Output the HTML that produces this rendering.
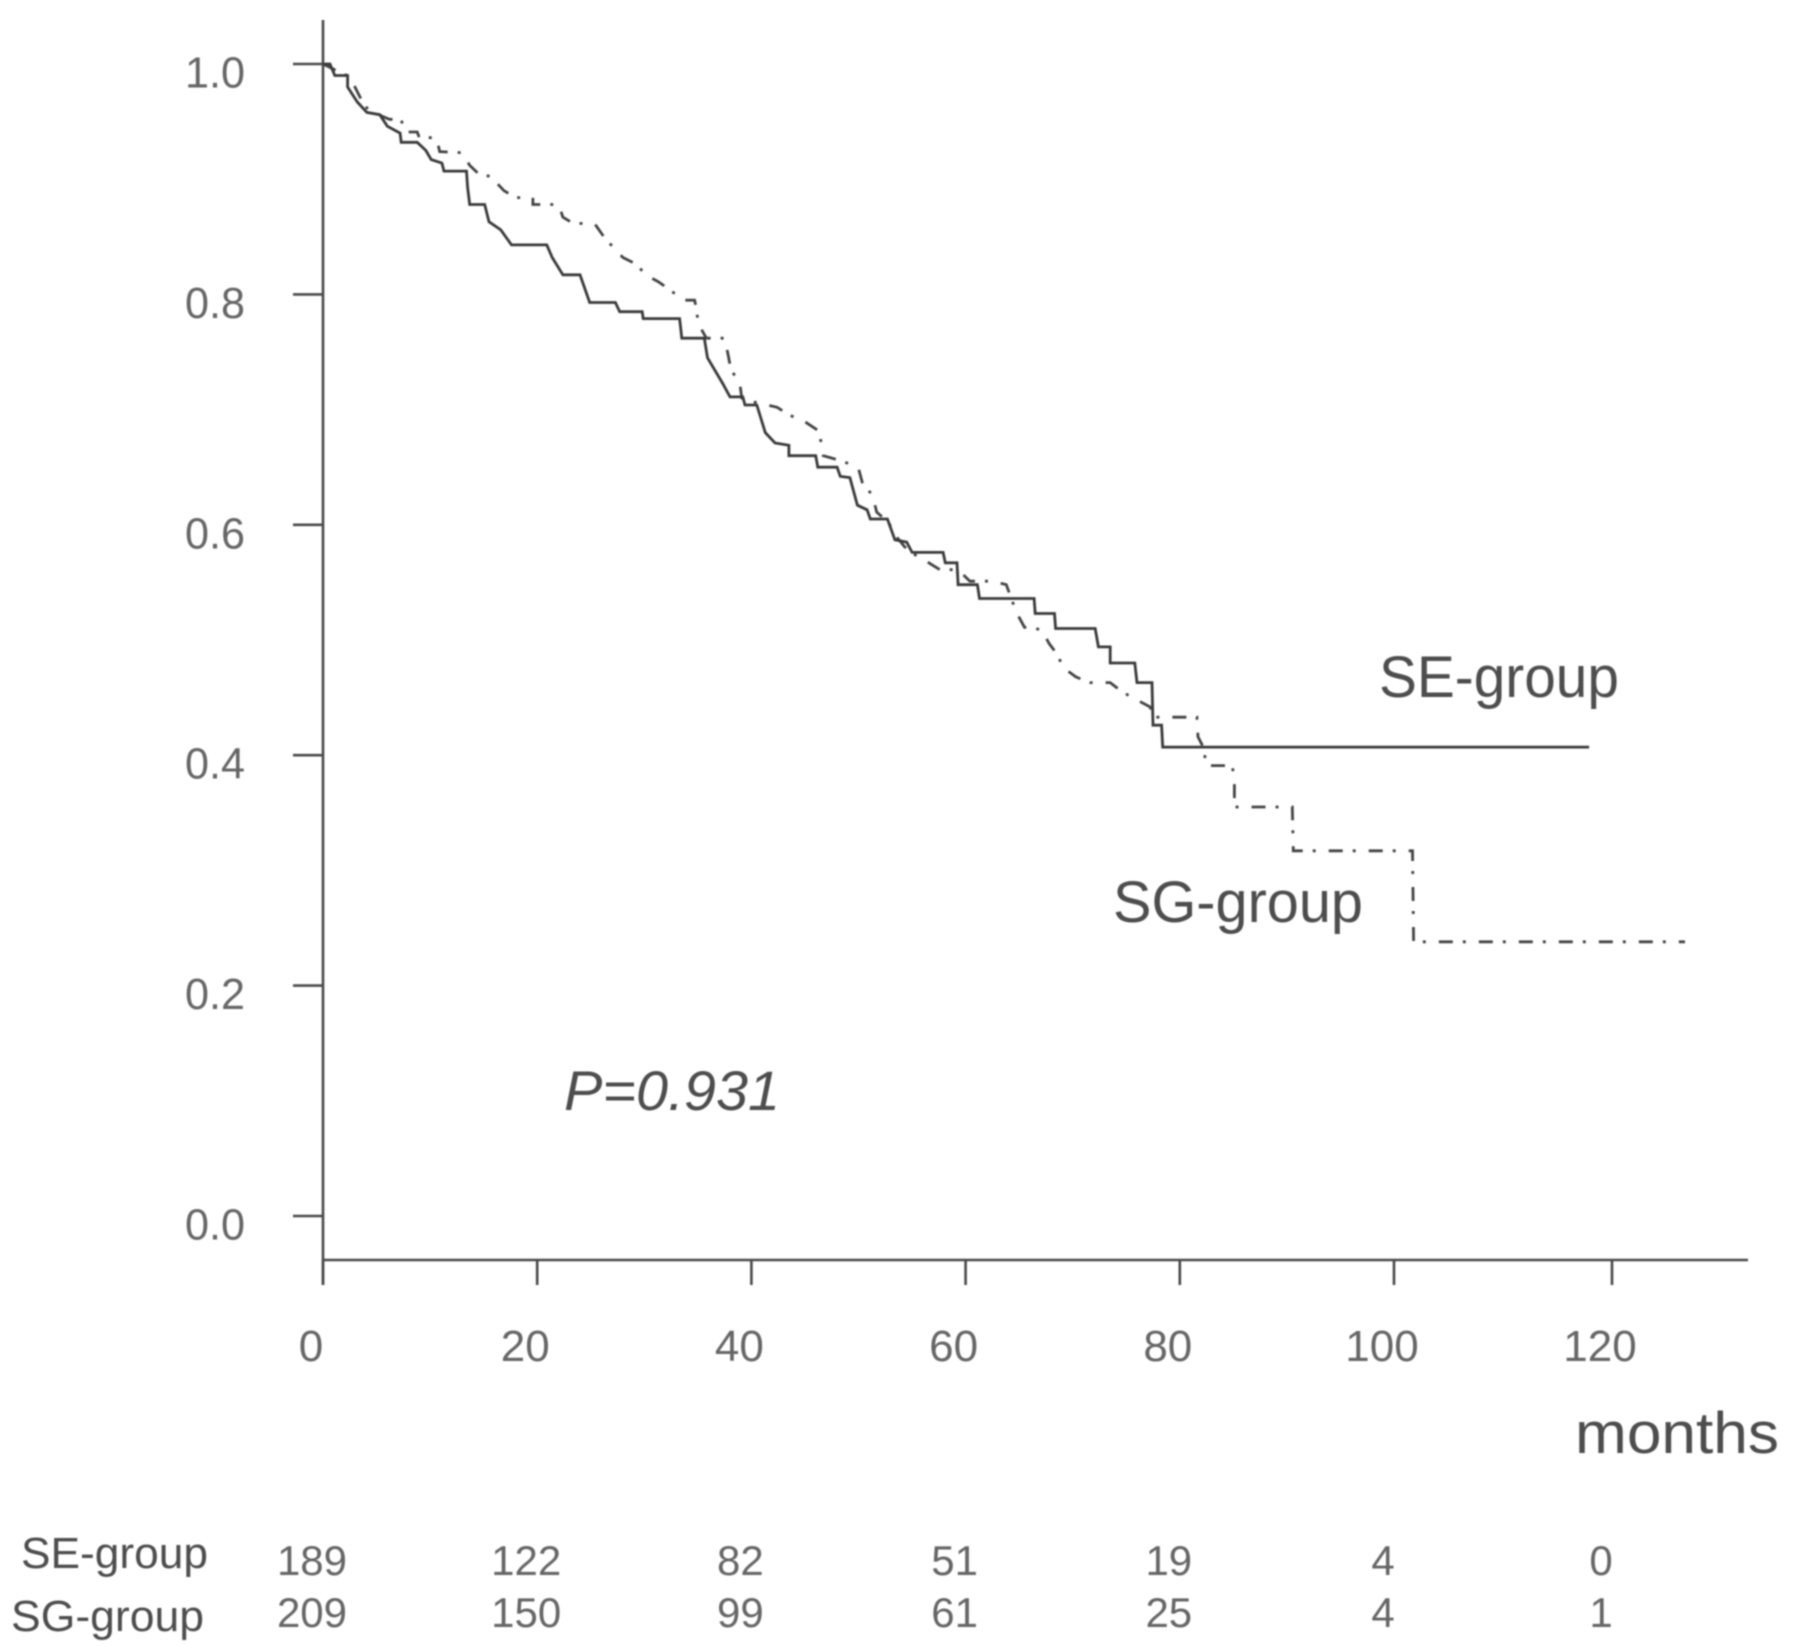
<!DOCTYPE html>
<html lang="en">
<head>
<meta charset="utf-8">
<title>Kaplan-Meier survival curves: SE-group and SG-group</title>
<style>
html,body{margin:0;padding:0;background:#fff;}
svg{display:block;}
text{font-family:"Liberation Sans",sans-serif;}
</style>
</head>
<body>
<svg id="chart" xmlns="http://www.w3.org/2000/svg" width="1795" height="1646" viewBox="0 0 1795 1646">
  <defs>
    <filter id="soft" filterUnits="userSpaceOnUse" x="0" y="0" width="1795" height="1646">
      <feGaussianBlur stdDeviation="0.9"/>
    </filter>
  </defs>
  <rect x="0" y="0" width="1795" height="1646" fill="#ffffff"/>
  <g id="plot" filter="url(#soft)"></g>
</svg>
<script>
// Axis tick values
const xTicks = [0, 20, 40, 60, 80, 100, 120];
const yTicks = [0.0, 0.2, 0.4, 0.6, 0.8, 1.0];
const yTickLabels = ['0.0', '0.2', '0.4', '0.6', '0.8', '1.0'];

// SE-group survival curve (solid)
const seMonths = [0,0.65,1.1,2.3,2.3,3.2,4.1,5.3,6.0,7.2,7.3,8.8,9.6,10.1,11.1,11.3,13.4,13.5,13.7,15.1,15.5,16.6,17.6,20.9,21.4,22.4,24,24.9,27.3,27.7,29.8,29.9,33.3,33.5,35.6,35.9,37.3,38,39.2,39.4,40.5,41.3,42.2,43.5,43.5,46,46.2,48,48.3,49.2,49.9,50.8,51.1,52.7,53.4,54.5,55,57.9,58.1,59.2,59.3,61.1,61.3,66.4,66.5,68.3,68.4,72.1,72.4,73.5,73.5,75.8,76,77.4,77.5,78.3,78.4,117.9];
const seSurvival = [1,1,0.99,0.99,0.98,0.967,0.958,0.956,0.946,0.94,0.932,0.932,0.925,0.917,0.914,0.907,0.907,0.893,0.878,0.878,0.863,0.856,0.843,0.843,0.832,0.817,0.817,0.793,0.793,0.785,0.785,0.779,0.779,0.762,0.762,0.745,0.723,0.711,0.711,0.704,0.704,0.68,0.671,0.669,0.66,0.66,0.65,0.65,0.642,0.641,0.617,0.613,0.605,0.605,0.587,0.585,0.576,0.576,0.567,0.567,0.548,0.548,0.536,0.536,0.523,0.523,0.51,0.51,0.494,0.494,0.48,0.48,0.463,0.463,0.426,0.426,0.407,0.407];

// SG-group survival curve (dash-dot)
const sgMonths = [0,1.1,2.5,3.9,5.2,6.2,7.3,7.6,8.8,9,10.6,10.9,13,13.7,14.6,16,16.2,16.9,18,19.6,19.6,22,22.4,23.3,25.4,26.3,27.1,28,29.3,30.1,31.3,32.4,33.6,34.7,34.9,35,35.8,37.5,37.8,38.1,38.9,39.1,40.5,42.4,43.6,44.9,46.2,46.6,46.7,48.6,50,50.4,51.3,51.7,52.8,53.6,54.3,55.1,56.4,57.6,59.3,60.4,62.5,63.8,64.3,64.8,65.5,67.1,67.8,68.6,69.1,70.3,71.6,73.5,74.6,75.8,77.2,77.7,81.6,81.7,82.3,82.4,84.9,85.1,85.1,90.5,90.6,101.7,101.8,126.7];
const sgSurvival = [1,0.995,0.989,0.963,0.956,0.952,0.952,0.941,0.941,0.936,0.936,0.924,0.923,0.912,0.904,0.902,0.897,0.89,0.884,0.884,0.878,0.878,0.867,0.862,0.861,0.849,0.841,0.832,0.826,0.817,0.811,0.804,0.795,0.795,0.786,0.775,0.762,0.762,0.749,0.734,0.724,0.71,0.706,0.702,0.695,0.69,0.682,0.669,0.66,0.655,0.649,0.635,0.626,0.611,0.602,0.589,0.581,0.575,0.568,0.561,0.561,0.551,0.551,0.548,0.535,0.523,0.511,0.509,0.497,0.487,0.476,0.468,0.463,0.463,0.455,0.449,0.442,0.433,0.433,0.416,0.405,0.391,0.391,0.377,0.355,0.355,0.317,0.317,0.238,0.238];

// Numbers at risk
const seAtRisk = [189, 122, 82, 51, 19, 4, 0];
const sgAtRisk = [209, 150, 99, 61, 25, 4, 1];

const SVG_NS = 'http://www.w3.org/2000/svg';
const plot = document.getElementById('plot');
// The original axis is slightly wider past 100 months, so the scale has two segments.
const xScale = function (m) { return m <= 100 ? 323 + m * 10.71 : 1394 + (m - 100) * 10.9; };
const yScale = function (s) { return 1216 - s * 1152; };

function makeLine(x1, y1, x2, y2, color, width) {
  const el = document.createElementNS(SVG_NS, 'line');
  el.setAttribute('x1', x1);
  el.setAttribute('y1', y1);
  el.setAttribute('x2', x2);
  el.setAttribute('y2', y2);
  el.setAttribute('stroke', color);
  el.setAttribute('stroke-width', width);
  plot.appendChild(el);
  return el;
}

function makeText(content, x, y, size, color, anchor, length) {
  const el = document.createElementNS(SVG_NS, 'text');
  el.setAttribute('x', x);
  el.setAttribute('y', y);
  el.setAttribute('font-size', size);
  el.setAttribute('fill', color);
  el.setAttribute('text-anchor', anchor);
  if (length) {
    el.setAttribute('textLength', length);
    el.setAttribute('lengthAdjust', 'spacingAndGlyphs');
  }
  el.textContent = content;
  plot.appendChild(el);
  return el;
}

function makeCurve(months, survival, width, color) {
  const el = document.createElementNS(SVG_NS, 'polyline');
  const pts = months.map(function (m, i) {
    return xScale(m).toFixed(1) + ',' + yScale(survival[i]).toFixed(1);
  }).join(' ');
  el.setAttribute('points', pts);
  el.setAttribute('fill', 'none');
  el.setAttribute('stroke', color);
  el.setAttribute('stroke-width', width);
  el.setAttribute('stroke-linejoin', 'miter');
  plot.appendChild(el);
  return el;
}

const axisColor = '#4a4a4a';
const labelColor = '#666666';
const darkText = '#4d4d4d';

const yAxis = makeLine(323, 20, 323, 1285, axisColor, 2.6);



const xAxis = makeLine(323, 1260, 1748, 1260, axisColor, 2.6);



yTicks.forEach(function (v, i) {
  const y = yScale(v);
  const tick = makeLine(293, y, 323, y, axisColor, 2.6);
  
  
  const label = makeText(yTickLabels[i], 215, y + 23.5, 44, labelColor, 'middle', 60);
  
  
});

xTicks.forEach(function (v, i) {
  const x = xScale(v);
  const tick = makeLine(x, 1260, x, 1285, axisColor, 2.6);
  
  
  const label = makeText(String(v), x - 12, 1361, 44, labelColor, 'middle');
  
  
  const seCount = makeText(String(seAtRisk[i]), x - 11, 1575, 42, labelColor, 'middle');
  
  
  const sgCount = makeText(String(sgAtRisk[i]), x - 11, 1627, 42, labelColor, 'middle');
  
  
});

const sgCurve = makeCurve(sgMonths, sgSurvival, 2.8, '#444444');
sgCurve.setAttribute('stroke-dasharray', '14 10 3 13');



const seCurve = makeCurve(seMonths, seSurvival, 2.8, '#3a3a3a');



const seLabel = makeText('SE-group', 1379, 697, 58, darkText, 'start', 240);



const sgLabel = makeText('SG-group', 1113, 922, 58, darkText, 'start', 250);



const pValue = makeText('P=0.931', 564, 1110, 56, darkText, 'start', 216);
pValue.setAttribute('font-style', 'italic');



const xTitle = makeText('months', 1575, 1453, 58, darkText, 'start', 204);



const seRow = makeText('SE-group', 21, 1568, 44, darkText, 'start', 187);



const sgRow = makeText('SG-group', 11, 1631, 44, darkText, 'start', 193);


</script>
</body>
</html>
